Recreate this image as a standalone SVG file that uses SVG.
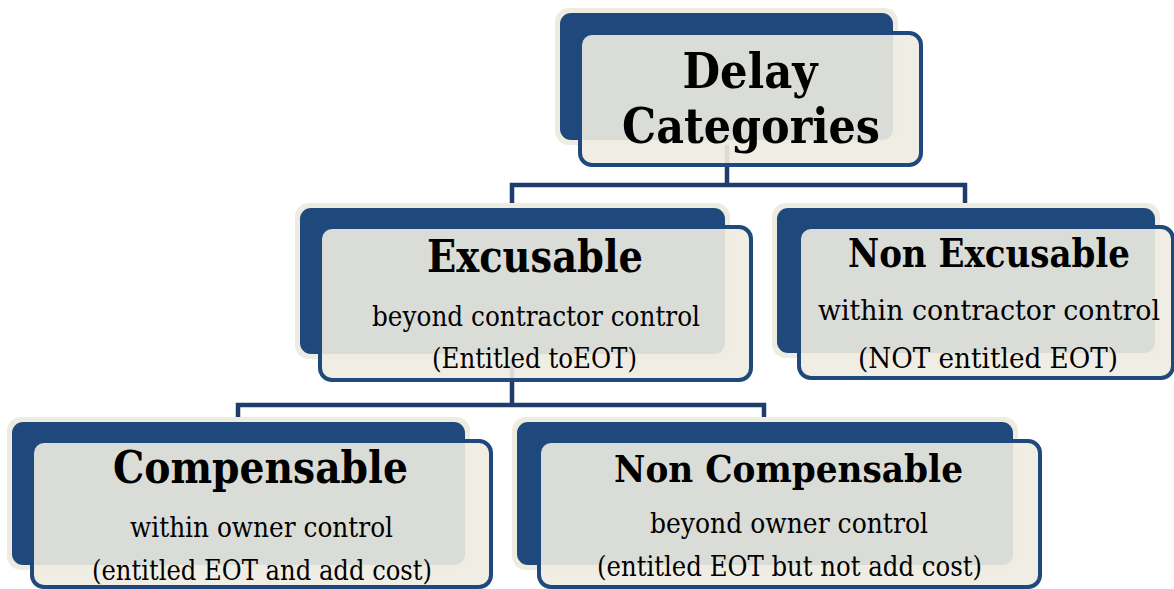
<svg xmlns="http://www.w3.org/2000/svg" width="1174" height="589" viewBox="0 0 1174 589">
  <style>
    .halo { fill: #eeece1; }
    .back { fill: #1f497d; }
    .front { fill: #eeece1; fill-opacity: 0.9; stroke: #1f497d; stroke-width: 4; }
    .conn { fill: none; stroke: #1f3d6b; stroke-width: 4.5; stroke-linejoin: miter; }
    .title { font-family: "DejaVu Serif Condensed", "DejaVu Serif", "Liberation Serif", serif; font-stretch: condensed; font-weight: bold; fill: #000; text-anchor: middle; }
    .sub { font-family: "DejaVu Serif Condensed", "DejaVu Serif", "Liberation Serif", serif; font-stretch: condensed; font-weight: normal; fill: #000; text-anchor: middle; font-size: 28px; }
  </style>
  <rect width="1174" height="589" fill="#ffffff"/>

  <g id="connectors">
    <path class="conn" d="M727 140 V185 M512 210 V185 H965 V210"/>
    <path class="conn" d="M512 354 V405 M238 424 V405 H764 V424"/>
  </g>

  <g id="node-delay">
    <rect class="halo" x="555" y="8" width="343" height="137" rx="14"/>
    <rect class="back" x="560" y="13" width="333" height="127" rx="11"/>
    <rect class="front" x="580" y="33" width="341" height="132" rx="12"/>
    <text class="title" x="750" y="88" font-size="49" textLength="135" lengthAdjust="spacingAndGlyphs">Delay</text>
    <text class="title" x="751" y="143" font-size="49" textLength="258" lengthAdjust="spacingAndGlyphs">Categories</text>
  </g>

  <g id="node-excusable">
    <rect class="halo" x="295" y="203" width="435" height="156" rx="14"/>
    <rect class="back" x="300" y="208" width="425" height="146" rx="11"/>
    <rect class="front" x="320" y="227" width="431" height="153" rx="12"/>
    <text class="title" x="535" y="272" font-size="44" textLength="216" lengthAdjust="spacingAndGlyphs">Excusable</text>
    <text class="sub" x="536" y="326" textLength="328" lengthAdjust="spacingAndGlyphs">beyond contractor control</text>
    <text class="sub" x="534.5" y="368" textLength="205" lengthAdjust="spacingAndGlyphs">(Entitled toEOT)</text>
  </g>

  <g id="node-nonexcusable">
    <rect class="halo" x="772" y="203" width="388" height="155" rx="14"/>
    <rect class="back" x="777" y="208" width="378" height="145" rx="11"/>
    <rect class="front" x="799" y="227" width="374" height="151" rx="12"/>
    <text class="title" x="989" y="267" font-size="40" textLength="282" lengthAdjust="spacingAndGlyphs">Non Excusable</text>
    <text class="sub" x="989" y="320" textLength="342" lengthAdjust="spacingAndGlyphs">within contractor control</text>
    <text class="sub" x="988" y="368" textLength="260" lengthAdjust="spacingAndGlyphs">(NOT entitled EOT)</text>
  </g>

  <g id="node-compensable">
    <rect class="halo" x="7" y="417" width="463" height="153" rx="14"/>
    <rect class="back" x="12" y="422" width="453" height="143" rx="11"/>
    <rect class="front" x="32" y="441" width="459" height="146" rx="12"/>
    <text class="title" x="260.5" y="483" font-size="45" textLength="295" lengthAdjust="spacingAndGlyphs">Compensable</text>
    <text class="sub" x="261.5" y="537" textLength="263" lengthAdjust="spacingAndGlyphs">within owner control</text>
    <text class="sub" x="262" y="580" textLength="340" lengthAdjust="spacingAndGlyphs">(entitled EOT and add cost)</text>
  </g>

  <g id="node-noncompensable">
    <rect class="halo" x="512" y="417" width="506" height="153" rx="14"/>
    <rect class="back" x="517" y="422" width="496" height="143" rx="11"/>
    <rect class="front" x="539" y="441" width="501" height="146" rx="12"/>
    <text class="title" x="788.5" y="482" font-size="38" textLength="349" lengthAdjust="spacingAndGlyphs">Non Compensable</text>
    <text class="sub" x="789" y="533" textLength="278" lengthAdjust="spacingAndGlyphs">beyond owner control</text>
    <text class="sub" x="789.5" y="576" textLength="385" lengthAdjust="spacingAndGlyphs">(entitled EOT but not add cost)</text>
  </g>
</svg>
